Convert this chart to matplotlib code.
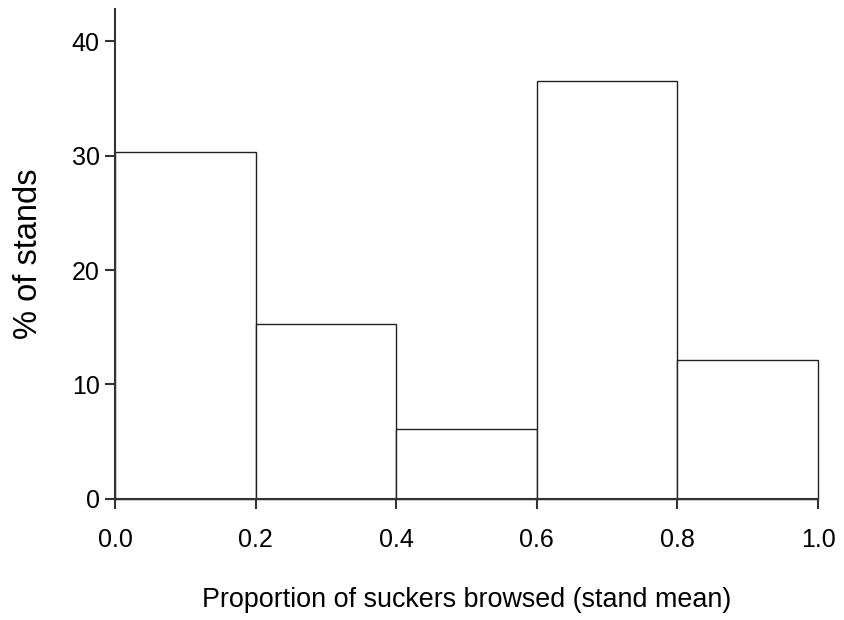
import matplotlib
matplotlib.use("Agg")
import matplotlib.pyplot as plt

bin_edges = [0.0, 0.2, 0.4, 0.6, 0.8, 1.0]
percent_stands = [30.3, 15.3, 6.1, 36.5, 12.1]
xticks = [0.0, 0.2, 0.4, 0.6, 0.8, 1.0]
xtick_labels = ["0.0", "0.2", "0.4", "0.6", "0.8", "1.0"]
yticks = [0, 10, 20, 30, 40]

plt.rcParams['font.family'] = ['Liberation Sans', 'DejaVu Sans']

fig = plt.figure(figsize=(8.44, 6.2), dpi=100)
ax = fig.add_axes([0.1363, 0.1952, 0.8329, 0.7903])

lefts = bin_edges[:-1]
widths = [bin_edges[i + 1] - bin_edges[i] for i in range(len(lefts))]
ax.bar(lefts, percent_stands, width=widths, align='edge',
       facecolor='white', edgecolor='#222222', linewidth=1.0, clip_on=False)

ax.set_xlim(0, 1.0)
ax.set_ylim(0, 42.8)
ax.set_xticks(xticks)
ax.set_xticklabels(xtick_labels)
ax.set_yticks(yticks)

for s in ['top', 'right']:
    ax.spines[s].set_visible(False)
for s in ['left', 'bottom']:
    ax.spines[s].set_linewidth(1.5)
    ax.spines[s].set_color('#333333')
    ax.spines[s].set_zorder(3)

ax.tick_params(axis='both', direction='out', length=7, width=1.5,
               color='#333333', labelsize=18)
ax.tick_params(axis='x', pad=14)
ax.tick_params(axis='y', pad=4)

ax.set_xlabel('Proportion of suckers browsed (stand mean)', fontsize=19.4, labelpad=25)
ax.set_ylabel('% of stands', fontsize=23.5, labelpad=20)

fig.savefig('out.png', dpi=100)
